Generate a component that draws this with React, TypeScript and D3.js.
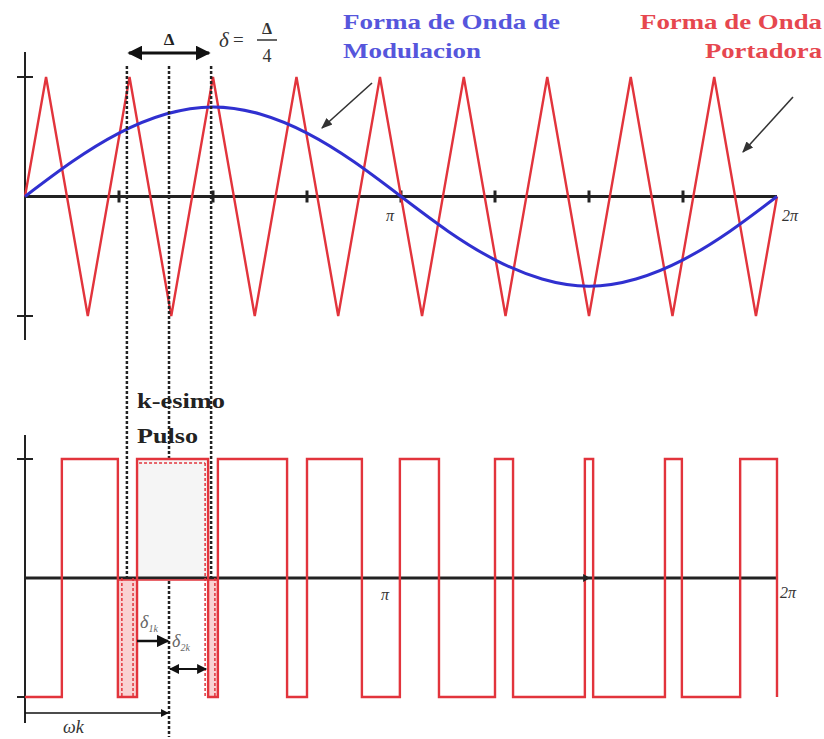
import * as d3 from "d3";

// x positions in units of pi (0..2)
const carrierX = [0, 0.056, 0.167, 0.278, 0.389, 0.5, 0.611, 0.722, 0.833, 0.944, 1.056, 1.167, 1.278, 1.389, 1.5, 1.611, 1.722, 1.833, 1.944, 2.0];
const carrierY = [0, 1, -1, 1, -1, 1, -1, 1, -1, 1, -1, 1, -1, 1, -1, 1, -1, 1, -1, 0];

const modX = [0, 0.125, 0.25, 0.375, 0.5, 0.625, 0.75, 0.875, 1, 1.125, 1.25, 1.375, 1.5, 1.625, 1.75, 1.875, 2];
const modY = [0, 0.29, 0.53, 0.69, 0.75, 0.69, 0.53, 0.29, 0, -0.29, -0.53, -0.69, -0.75, -0.69, -0.53, -0.29, 0];

// pulse switching instants (starts low, toggles on each edge)
const pulseEdges = [0.098, 0.247, 0.298, 0.487, 0.513, 0.697, 0.75, 0.896, 0.997, 1.101, 1.25, 1.298, 1.489, 1.511, 1.702, 1.747, 1.902, 2.0];

const axisTicks = [0.25, 0.5, 0.75, 1, 1.25, 1.5, 1.75];
const guideLines = [0.271, 0.383, 0.495]; // peak, trough, peak around k-th pulse
const kPulse = [0.298, 0.487];
const sideGaps = [[0.247, 0.298], [0.487, 0.513]];

const RED = "#e2343c";
const BLUE = "#3030d0";

export default function App() {
  const W = 824, H = 739;
  const x = d3.scaleLinear().domain([0, 2]).range([25, 777]);
  const yTop = d3.scaleLinear().domain([-1, 1]).range([316, 77]);
  const yBot = d3.scaleLinear().domain([-1, 1]).range([697, 459]);

  const carrier = d3.line<number>().x((_, i) => x(carrierX[i])).y(d => yTop(d));
  const modulation = d3.line<number>().x((_, i) => x(modX[i])).y(d => yTop(d)).curve(d3.curveNatural);

  // pulse train as a step path
  const pulsePts: [number, number][] = [[0, -1]];
  let level = -1;
  pulseEdges.forEach(e => {
    pulsePts.push([e, level]);
    level = -level;
    pulsePts.push([e, level]);
  });
  const pulseLine = d3.line<[number, number]>().x(d => x(d[0])).y(d => yBot(d[1]));

  const serif = "'Liberation Serif', 'DejaVu Serif', serif";

  return (
    <svg width={W} height={H} style={{ position: "absolute", left: 0, top: 0, background: "#fff" }}>
      <defs>
        <marker id="ah" viewBox="0 0 10 10" refX="9" refY="5" markerWidth="5" markerHeight="5" orient="auto-start-reverse">
          <path d="M0,0 L10,5 L0,10 z" fill="#111" />
        </marker>
        <marker id="ahs" viewBox="0 0 10 10" refX="9" refY="5" markerWidth="7" markerHeight="7" orient="auto-start-reverse">
          <path d="M0,1 L10,5 L0,9 z" fill="#333" />
        </marker>
      </defs>

      {/* ---------- top panel ---------- */}
      <line x1={x(0)} x2={x(0)} y1={52} y2={340} stroke="#222" strokeWidth={2} />
      {[1, -1].map(v => (
        <line key={v} x1={17} x2={33} y1={yTop(v)} y2={yTop(v)} stroke="#222" strokeWidth={2} />
      ))}
      <line x1={x(0)} x2={x(2)} y1={yTop(0)} y2={yTop(0)} stroke="#222" strokeWidth={3} />
      {axisTicks.map(t => (
        <line key={t} x1={x(t)} x2={x(t)} y1={yTop(0) - 6} y2={yTop(0) + 6} stroke="#222" strokeWidth={3} />
      ))}
      <path d={carrier(carrierY) || ""} fill="none" stroke={RED} strokeWidth={2.4} />
      <path d={modulation(modY) || ""} fill="none" stroke={BLUE} strokeWidth={3} />
      <text x={x(1) - 15} y={221} fontFamily={serif} fontStyle="italic" fontSize={16} fill="#333">π</text>
      <text x={x(2) + 5} y={221} fontFamily={serif} fontStyle="italic" fontSize={16} fill="#333">2π</text>

      {/* guide lines */}
      {guideLines.map((g, i) => (
        <line key={g} x1={x(g)} x2={x(g)} y1={66} y2={i === 1 ? 737 : 697} stroke="#222" strokeWidth={2.5} strokeDasharray="3,2" />
      ))}

      {/* Delta annotation */}
      <line x1={x(guideLines[0]) + 2} x2={x(guideLines[2]) - 2} y1={53} y2={53} stroke="#111" strokeWidth={3}
        markerStart="url(#ah)" markerEnd="url(#ah)" />
      <text x={x(guideLines[1])} y={45} textAnchor="middle" fontFamily={serif} fontWeight="bold" fontSize={17} fill="#222">Δ</text>
      <text x={219} y={47} fontFamily={serif} fontStyle="italic" fontSize={21} fill="#333">δ</text>
      <text x={233} y={46} fontFamily={serif} fontSize={19} fill="#333">=</text>
      <text x={267} y={34} textAnchor="middle" fontFamily={serif} fontWeight="bold" fontSize={16} fill="#333">Δ</text>
      <line x1={257} x2={277} y1={40} y2={40} stroke="#333" strokeWidth={1.5} />
      <text x={267} y={62} textAnchor="middle" fontFamily={serif} fontSize={18} fill="#333">4</text>

      {/* legends */}
      <text x={343} y={29} fontFamily={serif} fontWeight="bold" fontSize={21} fill="#5656dc" textLength={217} lengthAdjust="spacingAndGlyphs">Forma de Onda de</text>
      <text x={343} y={58} fontFamily={serif} fontWeight="bold" fontSize={21} fill="#5656dc" textLength={138} lengthAdjust="spacingAndGlyphs">Modulacion</text>
      <line x1={372} y1={83} x2={322} y2={128} stroke="#333" strokeWidth={1.6} markerEnd="url(#ahs)" />
      <text x={822} y={29} textAnchor="end" fontFamily={serif} fontWeight="bold" fontSize={21} fill="#e6474f" textLength={182} lengthAdjust="spacingAndGlyphs">Forma de Onda</text>
      <text x={822} y={58} textAnchor="end" fontFamily={serif} fontWeight="bold" fontSize={21} fill="#e6474f" textLength={117} lengthAdjust="spacingAndGlyphs">Portadora</text>
      <line x1={793} y1={97} x2={743} y2={152} stroke="#333" strokeWidth={1.6} markerEnd="url(#ahs)" />

      {/* ---------- bottom panel ---------- */}
      <rect x={x(kPulse[0])} y={yBot(1)} width={x(kPulse[1]) - x(kPulse[0])} height={yBot(0) - yBot(1)} fill="#f5f5f5" />
      {sideGaps.map(([a, b]) => (
        <rect key={a} x={x(a)} y={yBot(0)} width={x(b) - x(a)} height={yBot(-1) - yBot(0)} fill="#f9d2d2" />
      ))}
      <line x1={x(0)} x2={x(0)} y1={435} y2={723} stroke="#222" strokeWidth={2} />
      {[1, -1].map(v => (
        <line key={v} x1={17} x2={33} y1={yBot(v)} y2={yBot(v)} stroke="#222" strokeWidth={2} />
      ))}
      <line x1={x(0)} x2={x(2)} y1={yBot(0)} y2={yBot(0)} stroke="#222" strokeWidth={3} />
      <line x1={x(sideGaps[0][0])} x2={x(sideGaps[1][1])} y1={yBot(0) + 2} y2={yBot(0) + 2} stroke={RED} strokeWidth={1.5} />
      <path d={pulseLine(pulsePts) || ""} fill="none" stroke={RED} strokeWidth={2.4} />
      {/* dashed inner edges of the k-th pulse */}
      <line x1={x(kPulse[0]) + 2} x2={x(kPulse[1]) - 3} y1={yBot(1) + 4} y2={yBot(1) + 4} stroke={RED} strokeWidth={1.5} strokeDasharray="3,2" />
      <line x1={x(kPulse[1]) - 3} x2={x(kPulse[1]) - 3} y1={yBot(1) + 4} y2={yBot(-1)} stroke={RED} strokeWidth={1.5} strokeDasharray="3,2" />
      <line x1={x(sideGaps[0][0]) + 4} x2={x(sideGaps[0][0]) + 4} y1={yBot(0)} y2={yBot(-1)} stroke={RED} strokeWidth={1.5} strokeDasharray="3,2" />
      <line x1={x(sideGaps[0][1]) - 4} x2={x(sideGaps[0][1]) - 4} y1={yBot(0)} y2={yBot(-1)} stroke={RED} strokeWidth={1.5} strokeDasharray="3,2" />
      <line x1={x(sideGaps[1][1]) - 3} x2={x(sideGaps[1][1]) - 3} y1={yBot(0)} y2={yBot(-1)} stroke={RED} strokeWidth={1.5} strokeDasharray="3,2" />
      <path d={`M${x(1.495) - 4},${yBot(0) - 4} L${x(1.495) + 3},${yBot(0)} L${x(1.495) - 4},${yBot(0) + 4} z`} fill="#222" />
      <text x={x(1) - 20} y={600} fontFamily={serif} fontStyle="italic" fontSize={16} fill="#333">π</text>
      <text x={x(2) + 3} y={598} fontFamily={serif} fontStyle="italic" fontSize={16} fill="#333">2π</text>

      <text x={137} y={408} fontFamily={serif} fontWeight="bold" fontSize={20} fill="#222" textLength={88} lengthAdjust="spacingAndGlyphs">k-esimo</text>
      <text x={137} y={443} fontFamily={serif} fontWeight="bold" fontSize={20} fill="#222" textLength={61} lengthAdjust="spacingAndGlyphs">Pulso</text>

      {/* delta arrows */}
      <line x1={x(kPulse[0])} x2={x(guideLines[1]) - 1} y1={641} y2={641} stroke="#111" strokeWidth={2.5} markerEnd="url(#ah)" />
      <line x1={x(guideLines[1]) + 1} x2={x(kPulse[1]) - 2} y1={669} y2={669} stroke="#111" strokeWidth={2}
        markerStart="url(#ah)" markerEnd="url(#ah)" />
      <text x={140} y={628} fontFamily={serif} fontStyle="italic" fontSize={18} fill="#666">δ<tspan fontSize={10} dy={4}>1k</tspan></text>
      <text x={172} y={647} fontFamily={serif} fontStyle="italic" fontSize={18} fill="#666">δ<tspan fontSize={10} dy={4}>2k</tspan></text>

      {/* omega k arrow */}
      <line x1={x(0)} x2={x(guideLines[1]) - 1} y1={713} y2={713} stroke="#111" strokeWidth={1.6} markerEnd="url(#ah)" />
      <text x={63} y={733} fontFamily={serif} fontStyle="italic" fontSize={18} fill="#333">ωk</text>
    </svg>
  );
}
